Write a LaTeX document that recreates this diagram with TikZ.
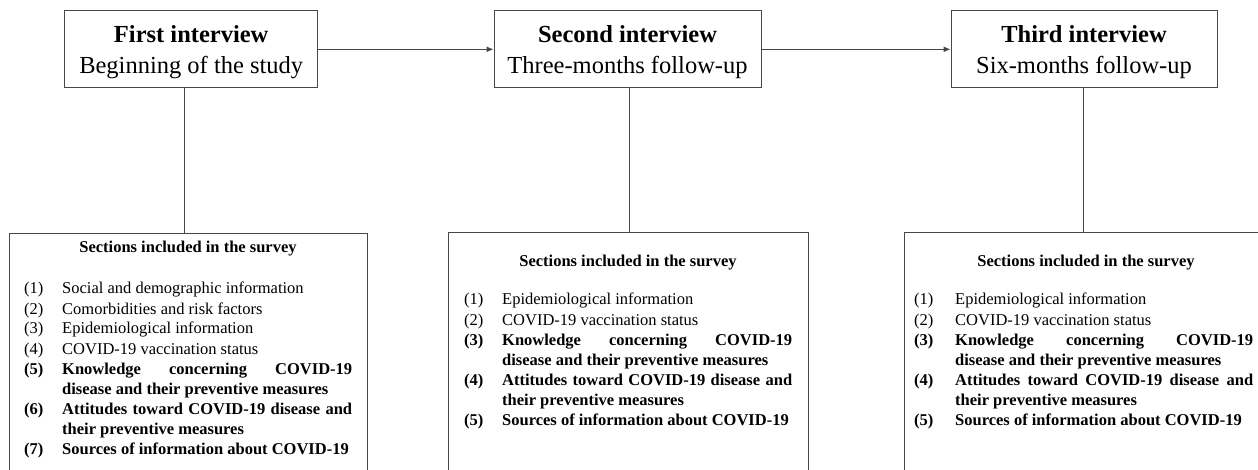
\documentclass[tikz,border=0pt]{standalone}
\usepackage{fontspec}
\setmainfont{Liberation Serif}
\usetikzlibrary{arrows.meta}
\tikzset{
  ln/.style={draw=black!72, line width=1pt},
  topbox/.style={ln, rectangle, minimum height=77.3pt, inner sep=0pt},
  ttl/.style={font=\fontsize{24.5}{31}\selectfont, inner sep=0pt, anchor=base},
  secbox/.style={ln, rectangle, anchor=north west, minimum height=270pt, inner sep=0pt},
  head/.style={font=\fontsize{16.5}{20}\selectfont\bfseries, inner sep=0pt, anchor=base},
  itm/.style={font=\fontsize{16.5}{20}\selectfont, inner sep=0pt, anchor=base west},
  arr/.style={ln, -{Latex[length=7pt,width=6pt]}}
}
\newcommand{\itA}[3]{\makebox[#1][l]{#2}\parbox[t]{290pt}{#3}}
\newcommand{\itC}[3]{\makebox[#1][l]{#2}\parbox[t]{298pt}{#3}}
\begin{document}
\begin{tikzpicture}[x=1pt,y=-1pt]
\useasboundingbox (0,0) rectangle (1258,470);
\clip (0,0) rectangle (1258,470);
% top boxes
\node[topbox, minimum width=253pt] (b1) at (191.2,49.3) {};
\node[topbox, minimum width=267pt] (b2) at (627.5,49.3) {};
\node[topbox, minimum width=266pt] (b3) at (1084,49.3) {};
\node[ttl] (t1a) at (191.2,43) {\bfseries First interview};
\node[ttl] (t1b) at (191.2,74) {Beginning of the study};
\node[ttl] (t2a) at (627.5,43) {\bfseries Second interview};
\node[ttl] (t2b) at (627.5,74) {Three-months follow-up};
\node[ttl] (t3a) at (1084,43) {\bfseries Third interview};
\node[ttl] (t3b) at (1084,74) {Six-months follow-up};
\draw[arr] (b1.east) -- (b2.west);
\draw[arr] (b2.east) -- (b3.west);
% section boxes
\node[secbox, minimum width=358pt] (sA) at (9,233) {};
\node[secbox, minimum width=360pt] (sB) at (448,232) {};
\node[secbox, minimum width=364pt] (sC) at (904,232) {};
\coordinate (jA) at (184,233);
\coordinate (jB) at (629,232);
\coordinate (jC) at (1083.5,232);
\draw[ln] (b1.south -| jA) -- (jA);
\draw[ln] (b2.south -| jB) -- (jB);
\draw[ln] (b3.south -| jC) -- (jC);
% box A
\node[head] (hA) at (188,253) {Sections included in the survey};
\node[itm] (a1) at (24,294) {\itA{38pt}{(1)}{Social and demographic information}};
\node[itm] (a2) at (24,314) {\itA{38pt}{(2)}{Comorbidities and risk factors}};
\node[itm] (a3) at (24,334) {\itA{38pt}{(3)}{Epidemiological information}};
\node[itm] (a4) at (24,354) {\itA{38pt}{(4)}{COVID-19 vaccination status}};
\node[itm] (a5) at (24,374) {\bfseries\itA{38pt}{(5)}{Knowledge concerning COVID-19\linebreak disease and their preventive measures}};
\node[itm] (a6) at (24,414) {\bfseries\itA{38pt}{(6)}{Attitudes toward COVID-19 disease and\linebreak their preventive measures}};
\node[itm] (a7) at (24,454) {\bfseries\itA{38pt}{(7)}{Sources of information about COVID-19}};
% box B
\node[head] (hB) at (628,267) {Sections included in the survey};
\node[itm] (c1) at (464,305) {\itA{38pt}{(1)}{Epidemiological information}};
\node[itm] (c2) at (464,325) {\itA{38pt}{(2)}{COVID-19 vaccination status}};
\node[itm] (c3) at (464,345) {\bfseries\itA{38pt}{(3)}{Knowledge concerning COVID-19\linebreak disease and their preventive measures}};
\node[itm] (c4) at (464,385) {\bfseries\itA{38pt}{(4)}{Attitudes toward COVID-19 disease and\linebreak their preventive measures}};
\node[itm] (c5) at (464,425) {\bfseries\itA{38pt}{(5)}{Sources of information about COVID-19}};
% box C
\node[head] (hC) at (1086,267) {Sections included in the survey};
\node[itm] (d1) at (914,305) {\itC{41pt}{(1)}{Epidemiological information}};
\node[itm] (d2) at (914,325) {\itC{41pt}{(2)}{COVID-19 vaccination status}};
\node[itm] (d3) at (914,345) {\bfseries\itC{41pt}{(3)}{Knowledge concerning COVID-19\linebreak disease and their preventive measures}};
\node[itm] (d4) at (914,385) {\bfseries\itC{41pt}{(4)}{Attitudes toward COVID-19 disease and\linebreak their preventive measures}};
\node[itm] (d5) at (914,425) {\bfseries\itC{41pt}{(5)}{Sources of information about COVID-19}};
\end{tikzpicture}
\end{document}
